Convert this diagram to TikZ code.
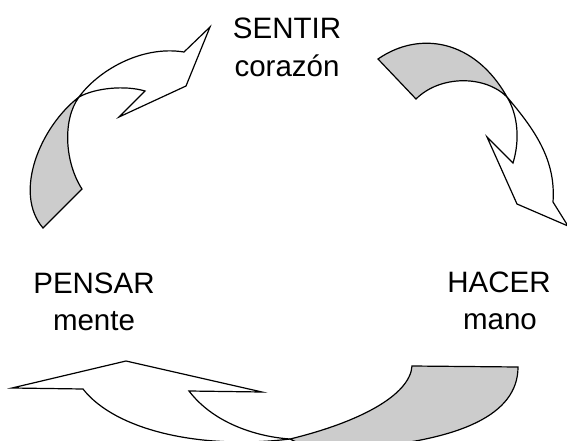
\documentclass[tikz,border=0pt]{standalone}
\usepackage{fontspec}
\setmainfont{Liberation Sans}
\tikzset{
  band/.style={draw=black, line width=1.2pt, fill=white, line join=miter, miter limit=10},
  backface/.style={band, fill=backgray},
  lbl/.style={font=\fontsize{29.5}{36}\selectfont, anchor=base, inner sep=0pt, text=black}
}
\definecolor{backgray}{HTML}{CCCCCC}
\begin{document}
\begin{tikzpicture}[x=1pt,y=-1pt]
\useasboundingbox (0,0) rectangle (567,441);
\clip (0,0) rectangle (567,441);
% top-left arrow (towards SENTIR)
\draw[backface] (43,228) .. controls (13,193) and (40,127) .. (79,97)
  .. controls (62,120) and (65,163) .. (82,189) -- cycle;
\draw[band] (79,97) .. controls (97,72) and (140,45) .. (184,52)
  -- (210,27) -- (186,86) -- (119,117) -- (145,91)
  .. controls (125,85) and (95,88) .. (79,97) -- cycle;
% top-right arrow (towards HACER)
\draw[backface] (378,59) .. controls (420,30) and (475,40) .. (507,97)
  .. controls (485,75) and (440,75) .. (416,99) -- cycle;
\draw[band] (507,97) .. controls (535,130) and (556,160) .. (553,202)
  -- (568,226) -- (517,204) -- (487,137) -- (513,163)
  .. controls (520,140) and (518,115) .. (507,97) -- cycle;
% bottom arrow (towards PENSAR)
\draw[band] (83,389) .. controls (115,430) and (200,450) .. (290,439)
  .. controls (260,437) and (215,425) .. (189,391)
  -- (262,392) -- (126,361) -- (12,388) -- cycle;
\draw[backface] (290,439) .. controls (360,422) and (410,395) .. (412,366)
  -- (518,367) .. controls (518,415) and (460,440) .. (360,448)
  .. controls (330,451) and (305,447) .. (290,439) -- cycle;
% labels
\node[lbl] (sentir) at (287,39) {SENTIR};
\node[lbl] (corazon) at (287,77) {corazón};
\node[lbl] (hacer) at (499,292) {HACER};
\node[lbl] (mano) at (500,329) {mano};
\node[lbl] (pensar) at (94,293) {PENSAR};
\node[lbl] (mente) at (94,330) {mente};
\end{tikzpicture}
\end{document}
